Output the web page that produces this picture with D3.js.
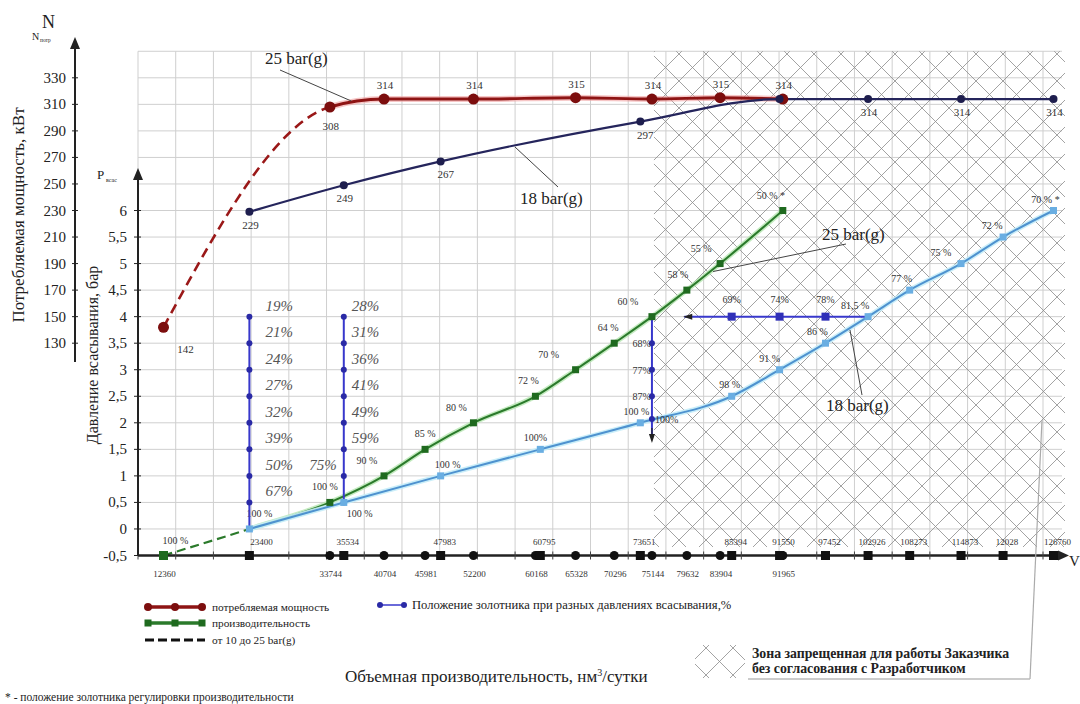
<!DOCTYPE html>
<html>
<head>
<meta charset="utf-8">
<script src="https://cdn.jsdelivr.net/npm/d3@7"></script>
<style>
  body { margin: 0; background: #fff; }
  svg { font-family: "Liberation Serif", "DejaVu Serif", serif; }
</style>
</head>
<body>
<div id="chart"></div>
<script>
// ---- data ----
// consumed power, 25 bar(g)
const redV = [12360, 33744, 40704, 52200, 65328, 75144, 83904, 91965];
const redN = [142, 308, 314, 314, 315, 314, 315, 314];
const redLabels = ["142", "308", "314", "314", "315", "314", "315", "314"];
// consumed power, 18 bar(g)
const navyV = [23400, 35534, 47983, 73651, 91550, 102926, 114873, 126760];
const navyN = [229, 249, 267, 297, 314, 314, 314, 314];
const navyLabels = ["229", "249", "267", "297", "", "314", "314", "314"];
// suction pressure vs capacity, 25 bar(g)
const greenV = [12360, 23400, 33744, 40704, 45981, 52200, 60168, 65328, 70296, 75144, 79632, 83904, 91965];
const greenP = [-0.5, 0, 0.5, 1, 1.5, 2, 2.5, 3, 3.5, 4, 4.5, 5, 6];
const greenLabels = ["100 %", "100 %", "100 %", "90 %", "85 %", "80 %", "72 %", "70 %", "64 %", "60 %", "58 %", "55 %", "50 % *"];
// suction pressure vs capacity, 18 bar(g)
const blueV = [23400, 35534, 47983, 60795, 73651, 85394, 91550, 97452, 102926, 108273, 114873, 120280, 126760];
const blueP = [0, 0.5, 1, 1.5, 2, 2.5, 3, 3.5, 4, 4.5, 5, 5.5, 6];
const blueLabels = ["", "100 %", "100 %", "100%", "100 %", "98 %", "91 %", "86 %", "81,5 %", "77 %", "75 %", "72 %", "70 % *"];
// slide valve positions
const slide1V = 23400;
const slide1P = [4, 3.5, 3, 2.5, 2, 1.5, 1, 0.5, 0];
const slide1Labels = ["19%", "21%", "24%", "27%", "32%", "39%", "50%", "67%", ""];
const slide2V = 35534;
const slide2P = [4, 3.5, 3, 2.5, 2, 1.5, 1, 0.5];
const slide2Labels = ["28%", "31%", "36%", "41%", "49%", "59%", "75%", ""];
const slide3V = 75144;
const slide3P = [3.5, 3, 2.5, 2.07];
const slide3Labels = ["68%", "77%", "87%", "100%"];
const slideHP = 4;
const slideHV = [85394, 91550, 97452];
const slideHLabels = ["69%", "74%", "78%"];
const slideHStartV = 79300, slideHEndV = 102926;
// values marked on the capacity axis
const axis25V = [33744, 40704, 45981, 52200, 60168, 65328, 70296, 75144, 79632, 83904, 91965];
const axis18V = [23400, 35534, 47983, 60795, 73651, 85394, 91550, 97452, 102926, 108273, 114873, 120280, 126760];
const axis18Text = ["23400", "35534", "47983", "60795", "73651", "85394", "91550", "97452", "102926", "108273", "114873", "12028", "126760"];
// axis ticks
const nTicks = d3.range(130, 331, 20);
const pTicks = d3.range(-0.5, 6.01, 0.5);
const zoneStartV = 75144;

// label nudges (layout only)
const greenDx = [12, 10, -5, -17, 0, -17, -7, -27, -6, -24, -9, -19, -12];
const blueDx = [0, 16, 7, -5, -4, -2, -10, -8, -13, -8, -20, -11, -8];

const width = 1080, height = 704;
const svg = d3.select("#chart").append("svg")
  .attr("width", width).attr("height", height);

// scales
const x = d3.scaleLinear().domain([12360, 126760]).range([163.5, 1053.5]);
const yP = d3.scaleLinear().domain([-0.5, 6]).range([555.5, 210.5]);
const yN = d3.scaleLinear().domain([-30, 350]).range([yP(-0.5), yP(9)]);
const col = d3.scaleLinear().domain([0, 24]).range([138, 1043]);
const gridRight = 1062;

const fmt = v => String(v).replace(".", ",");

// ---- grid ----
const grid = svg.append("g").attr("stroke", "#cfcfcf").attr("stroke-width", 1);
grid.selectAll(".gh").data(d3.range(-30, 351, 20)).join("line")
  .attr("x1", col(0)).attr("x2", gridRight)
  .attr("y1", d => yN(d)).attr("y2", d => yN(d));
grid.selectAll(".gv").data(d3.range(0, 25)).join("line")
  .attr("x1", d => col(d)).attr("x2", d => col(d))
  .attr("y1", yN(350)).attr("y2", yN(-30));

// ---- forbidden zone hatch ----
function hatch(g, x0, y0, w, h, step, id) {
  svg.append("clipPath").attr("id", id).append("rect")
    .attr("x", x0).attr("y", y0).attr("width", w).attr("height", h);
  const hg = g.append("g").attr("clip-path", `url(#${id})`)
    .attr("stroke", "#8c8c8c").attr("stroke-width", 0.8);
  const cs = d3.range(-1400, 2400, step);
  hg.selectAll(".a").data(cs).join("line")
    .attr("x1", d => d).attr("y1", 0).attr("x2", d => d - 800).attr("y2", 800);
  hg.selectAll(".b").data(cs).join("line")
    .attr("x1", d => d).attr("y1", 0).attr("x2", d => d + 800).attr("y2", 800);
}
const zoneG = svg.append("g");
hatch(zoneG, x(zoneStartV) + 2, yN(350), 1065 - x(zoneStartV) - 2, 547 - yN(350), 27, "zone");

// ---- curves ----
const redData = redV.map((v, i) => ({ v, n: redN[i], t: redLabels[i] }));
const navyData = navyV.map((v, i) => ({ v, n: navyN[i], t: navyLabels[i] }));
const greenData = greenV.map((v, i) => ({ v, p: greenP[i], t: greenLabels[i], dx: greenDx[i] }));
const blueData = blueV.map((v, i) => ({ v, p: blueP[i], t: blueLabels[i], dx: blueDx[i] }));

const lineN = d3.line().x(d => x(d.v)).y(d => yN(d.n)).curve(d3.curveMonotoneX);
const lineP = d3.line().x(d => x(d.v)).y(d => yP(d.p)).curve(d3.curveMonotoneX);

function clip(id, x0, x1) {
  svg.append("clipPath").attr("id", id).append("rect")
    .attr("x", x0).attr("y", 0).attr("width", x1 - x0).attr("height", height);
  return `url(#${id})`;
}
const redSplit = x(33744), greenSplit = x(23400);

// red (25 bar power)
svg.append("path").attr("d", lineN(redData)).attr("fill", "none")
  .attr("clip-path", clip("redA", redSplit, width))
  .attr("stroke", "#f0a0a0").attr("stroke-width", 6).attr("opacity", 0.6);
svg.append("path").attr("d", lineN(redData)).attr("fill", "none")
  .attr("clip-path", clip("redB", redSplit, width))
  .attr("stroke", "#8e1414").attr("stroke-width", 3);
svg.append("path").attr("d", lineN(redData)).attr("fill", "none")
  .attr("clip-path", clip("redC", 0, redSplit))
  .attr("stroke", "#9a1818").attr("stroke-width", 2.6).attr("stroke-dasharray", "10,6");

// navy (18 bar power)
svg.append("path").attr("d", lineN(navyData)).attr("fill", "none")
  .attr("stroke", "#25255c").attr("stroke-width", 2.2);

// green (25 bar capacity)
svg.append("path").attr("d", lineP(greenData)).attr("fill", "none")
  .attr("clip-path", clip("grA", greenSplit, width))
  .attr("stroke", "#b5e6b0").attr("stroke-width", 5).attr("opacity", 0.8);
svg.append("path").attr("d", lineP(greenData)).attr("fill", "none")
  .attr("clip-path", clip("grB", greenSplit, width))
  .attr("stroke", "#2b7a2b").attr("stroke-width", 2);
svg.append("path").attr("d", lineP(greenData)).attr("fill", "none")
  .attr("clip-path", clip("grC", 0, greenSplit))
  .attr("stroke", "#2b7a2b").attr("stroke-width", 2.2).attr("stroke-dasharray", "9,5");

// light blue (18 bar capacity)
svg.append("path").attr("d", lineP(blueData)).attr("fill", "none")
  .attr("stroke", "#c4ecf8").attr("stroke-width", 5).attr("opacity", 0.9);
svg.append("path").attr("d", lineP(blueData)).attr("fill", "none")
  .attr("stroke", "#4e92cf").attr("stroke-width", 2);

// ---- value labels ----
const lab = svg.append("g").attr("fill", "#333").attr("text-anchor", "middle");
lab.selectAll(".rl").data(redData).join("text")
  .attr("x", (d, i) => x(d.v) + (i === 0 ? 22 : 1))
  .attr("y", (d, i) => yN(d.n) + (i === 0 ? 26 : i === 1 ? 23 : -10))
  .attr("font-size", 11).text(d => d.t);
lab.selectAll(".nl").data(navyData).join("text")
  .attr("x", (d, i) => x(d.v) + (i === 2 || i === 3 ? 5 : 1))
  .attr("y", d => yN(d.n) + 17)
  .attr("font-size", 11).text(d => d.t);
lab.selectAll(".gl").data(greenData).join("text")
  .attr("x", d => x(d.v) + d.dx).attr("y", d => yP(d.p) - 12)
  .attr("font-size", 10).text(d => d.t);
lab.selectAll(".bl").data(blueData).join("text")
  .attr("x", d => x(d.v) + d.dx).attr("y", (d, i) => yP(d.p) + (i === 1 ? 15 : -8))
  .attr("font-size", 10).text(d => d.t);

// ---- slide valve lines (purple) ----
const purple = "#3838cc", purpleDot = "#2a2aa6";
const sg = svg.append("g");
sg.append("line").attr("x1", x(slide1V)).attr("x2", x(slide1V))
  .attr("y1", yP(d3.max(slide1P))).attr("y2", yP(d3.min(slide1P)))
  .attr("stroke", purple).attr("stroke-width", 2);
sg.append("line").attr("x1", x(slide2V)).attr("x2", x(slide2V))
  .attr("y1", yP(d3.max(slide2P))).attr("y2", yP(d3.min(slide2P)))
  .attr("stroke", purple).attr("stroke-width", 2);
sg.append("line").attr("x1", x(slide3V)).attr("x2", x(slide3V))
  .attr("y1", yP(4)).attr("y2", yP(1.75))
  .attr("stroke", purple).attr("stroke-width", 2);
sg.append("path")
  .attr("d", `M${x(slide3V)},${yP(1.62)} l-3,-9 l6,0 z`).attr("fill", "#222");
sg.append("line").attr("x1", x(slide3V)).attr("x2", x(slide3V))
  .attr("y1", yP(1.9)).attr("y2", yP(1.7)).attr("stroke", "#222").attr("stroke-width", 1.2);
sg.append("line").attr("x1", x(slideHStartV)).attr("x2", x(slideHEndV))
  .attr("y1", yP(slideHP)).attr("y2", yP(slideHP))
  .attr("stroke", purple).attr("stroke-width", 2);
sg.append("path")
  .attr("d", `M${x(slideHStartV) - 1},${yP(slideHP)} l9,-3 l0,6 z`).attr("fill", "#222");

function vDots(v, ps) {
  sg.selectAll(null).data(ps).join("circle")
    .attr("cx", x(v)).attr("cy", d => yP(d)).attr("r", 3).attr("fill", purpleDot);
}
vDots(slide1V, slide1P);
vDots(slide2V, slide2P);
vDots(slide3V, slide3P);
sg.selectAll(null).data(slideHV).join("rect")
  .attr("x", d => x(d) - 4).attr("y", yP(slideHP) - 4)
  .attr("width", 8).attr("height", 8).attr("fill", "#3030b8");

// slide labels
const italicLab = { size: 15, fill: "#555" };
sg.selectAll(null).data(slide1P.map((p, i) => ({ p, t: slide1Labels[i] }))).join("text")
  .attr("x", x(slide1V) + 16).attr("y", d => yP(d.p) - 6)
  .attr("font-size", italicLab.size).attr("font-style", "italic").attr("fill", italicLab.fill)
  .text(d => d.t);
sg.selectAll(null).data(slide2P.map((p, i) => ({ p, t: slide2Labels[i], i }))).join("text")
  .attr("x", d => d.i === 6 ? x(slide2V) - 7 : x(slide2V) + 8)
  .attr("text-anchor", d => d.i === 6 ? "end" : "start")
  .attr("y", d => yP(d.p) - 6)
  .attr("font-size", italicLab.size).attr("font-style", "italic").attr("fill", italicLab.fill)
  .text(d => d.t);
sg.selectAll(null).data(slide3P.map((p, i) => ({ p, t: slide3Labels[i], i }))).join("text")
  .attr("x", d => d.i === 3 ? x(slide3V) + 3 : x(slide3V) - 1)
  .attr("text-anchor", d => d.i === 3 ? "start" : "end")
  .attr("y", d => yP(d.p) + 4)
  .attr("font-size", 10).attr("fill", "#333")
  .text(d => d.t);
sg.selectAll(null).data(slideHV.map((v, i) => ({ v, t: slideHLabels[i] }))).join("text")
  .attr("x", d => x(d.v)).attr("y", yP(slideHP) - 14)
  .attr("text-anchor", "middle").attr("font-size", 10).attr("fill", "#333")
  .text(d => d.t);

// ---- markers ----
svg.selectAll(".rdot").data(redData).join("circle")
  .attr("cx", d => x(d.v)).attr("cy", d => yN(d.n)).attr("r", 5.5).attr("fill", "#7c0e0e");
svg.selectAll(".ndot").data(navyData).join("circle")
  .attr("cx", d => x(d.v)).attr("cy", d => yN(d.n)).attr("r", 4).attr("fill", "#1e1e4e");
svg.selectAll(".gsq").data(greenData.filter(d => d.v !== 23400)).join("rect")
  .attr("x", d => x(d.v) - 3.5).attr("y", d => yP(d.p) - 3.5)
  .attr("width", 7).attr("height", 7).attr("fill", "#1f6a1f");
svg.selectAll(".bsq").data(blueData).join("rect")
  .attr("x", d => x(d.v) - 3.5).attr("y", d => yP(d.p) - 3.5)
  .attr("width", 7).attr("height", 7).attr("fill", "#6aaee2");

// ---- annotations ----
const ann = svg.append("g").attr("font-size", 17).attr("fill", "#222");
function leader(x1, y1, x2, y2) {
  svg.append("line").attr("x1", x1).attr("y1", y1).attr("x2", x2).attr("y2", y2)
    .attr("stroke", "#444").attr("stroke-width", 1);
}
ann.append("text").attr("x", 265).attr("y", 64).text("25 bar(g)");
leader(280, 70, x(36500), yN(311) - 2);
ann.append("text").attr("x", 520).attr("y", 204).text("18 bar(g)");
leader(515, 147, 558, 187);
ann.append("text").attr("x", 822).attr("y", 240).text("25 bar(g)");
leader(x(83000), yP(4.85), 846, 244);
ann.append("text").attr("x", 826).attr("y", 411).text("18 bar(g)");
leader(x(100600), yP(3.75), 862, 395);

// ---- axes ----
const ax = svg.append("g").attr("fill", "#222");
// capacity axis
ax.append("line").attr("x1", col(0)).attr("x2", 1060).attr("y1", yP(-0.5)).attr("y2", yP(-0.5))
  .attr("stroke", "#222").attr("stroke-width", 2.5);
ax.append("path").attr("d", `M1069,${yP(-0.5)} l-11,-5 l0,10 z`);
ax.selectAll(".xt").data(d3.range(0, 25)).join("line")
  .attr("x1", d => col(d)).attr("x2", d => col(d))
  .attr("y1", yP(-0.5) - 4).attr("y2", yP(-0.5) + 4)
  .attr("stroke", "#444").attr("stroke-width", 1);
ax.append("text").attr("x", 1069).attr("y", 566).attr("font-size", 15).text("V");

ax.selectAll(".a25").data(axis25V).join("circle")
  .attr("cx", d => x(d)).attr("cy", yP(-0.5)).attr("r", 4.5).attr("fill", "#111");
ax.selectAll(".a18").data(axis18V).join("rect")
  .attr("x", d => x(d) - 4.5).attr("y", yP(-0.5) - 4.5)
  .attr("width", 9).attr("height", 9).attr("fill", "#111");
svg.append("rect").attr("x", x(12360) - 4.5).attr("y", yP(-0.5) - 4.5)
  .attr("width", 9).attr("height", 9).attr("fill", "#1f6a1f");

const axl = svg.append("g").attr("font-size", 9).attr("fill", "#333").attr("text-anchor", "middle");
axl.selectAll(".t25").data([12360].concat(axis25V)).join("text")
  .attr("x", d => x(d) + 1).attr("y", 577).text(d => d);
axl.selectAll(".t18").data(axis18V.map((v, i) => ({ v, t: axis18Text[i] }))).join("text")
  .attr("x", (d, i) => x(d.v) + (i === 0 ? 12 : 4)).attr("y", 545).text(d => d.t);

// pressure axis
ax.append("line").attr("x1", col(0)).attr("x2", col(0)).attr("y1", yP(-0.5)).attr("y2", 176)
  .attr("stroke", "#222").attr("stroke-width", 2);
ax.append("path").attr("d", `M${col(0)},168 l-5,12 l10,0 z`);
ax.selectAll(".pt").data(pTicks).join("line")
  .attr("x1", col(0) - 4).attr("x2", col(0) + 3)
  .attr("y1", d => yP(d)).attr("y2", d => yP(d))
  .attr("stroke", "#222");
ax.selectAll(".pl").data(pTicks).join("text")
  .attr("x", 127).attr("y", d => yP(d) + 5).attr("text-anchor", "end")
  .attr("font-size", 15).text(d => fmt(+d.toFixed(1)));
ax.append("text").attr("x", 97).attr("y", 179).attr("font-size", 13).text("P");
ax.append("text").attr("x", 106).attr("y", 182).attr("font-size", 6).text("всас");

// power axis
const nx = 75;
ax.append("line").attr("x1", nx).attr("x2", nx).attr("y1", 362).attr("y2", 46)
  .attr("stroke", "#222").attr("stroke-width", 2);
ax.append("path").attr("d", `M${nx},37 l-5,12 l10,0 z`);
ax.selectAll(".ntk").data(nTicks).join("line")
  .attr("x1", nx - 3).attr("x2", nx + 3)
  .attr("y1", d => yN(d)).attr("y2", d => yN(d)).attr("stroke", "#222");
ax.selectAll(".nl").data(nTicks).join("text")
  .attr("x", 66).attr("y", d => yN(d) + 5).attr("text-anchor", "end")
  .attr("font-size", 15).text(d => d);
ax.append("text").attr("x", 42).attr("y", 28).attr("font-size", 18).text("N");
ax.append("text").attr("x", 32).attr("y", 40).attr("font-size", 10).text("N");
ax.append("text").attr("x", 40).attr("y", 42).attr("font-size", 5.5).text("потр");

// axis titles
ax.append("text").attr("transform", "translate(24,215) rotate(-90)")
  .attr("text-anchor", "middle").attr("font-size", 17).text("Потребляемая мощность, кВт");
ax.append("text").attr("transform", "translate(98,355) rotate(-90)")
  .attr("text-anchor", "middle").attr("font-size", 16).text("Давление всасывания, бар");
ax.append("text").attr("x", 345).attr("y", 682).attr("font-size", 17)
  .html("Объемная производительность, нм<tspan dy='-6' font-size='10'>3</tspan><tspan dy='6'>/сутки</tspan>");
ax.append("text").attr("x", 5).attr("y", 701).attr("font-size", 11.5)
  .text("* - положение золотника регулировки производительности");

// ---- legend ----
const lg = svg.append("g").attr("font-size", 11.3).attr("fill", "#222");
const legendRows = [
  { y: 607, color: "#8e1414", mark: "circle", dash: null, text: "потребляемая мощность" },
  { y: 623, color: "#2b7a2b", mark: "rect", dash: null, text: "производительность" },
  { y: 640, color: "#111", mark: null, dash: "9,4", text: "от 10 до 25 bar(g)" }
];
legendRows.forEach(r => {
  lg.append("line").attr("x1", 145).attr("x2", 205).attr("y1", r.y).attr("y2", r.y)
    .attr("stroke", r.color).attr("stroke-width", r.dash ? 3 : 3.5)
    .attr("stroke-dasharray", r.dash);
  if (r.mark === "circle") {
    lg.selectAll(null).data([148, 175, 202]).join("circle")
      .attr("cx", d => d).attr("cy", r.y).attr("r", 4).attr("fill", "#7c0e0e");
  } else if (r.mark === "rect") {
    lg.selectAll(null).data([148, 175, 202]).join("rect")
      .attr("x", d => d - 3.5).attr("y", r.y - 3.5).attr("width", 7).attr("height", 7).attr("fill", "#1f6a1f");
  }
  lg.append("text").attr("x", 212).attr("y", r.y + 4).text(r.text);
});
lg.append("line").attr("x1", 380).attr("x2", 404).attr("y1", 605).attr("y2", 605)
  .attr("stroke", purple).attr("stroke-width", 1.5);
lg.selectAll(null).data([380, 404]).join("circle")
  .attr("cx", d => d).attr("cy", 605).attr("r", 3).attr("fill", purpleDot);
lg.append("text").attr("x", 412).attr("y", 609).attr("font-size", 12.6)
  .text("Положение золотника при разных давлениях всасывания,%");

// zone legend
const zl = svg.append("g");
hatch(zl, 695, 645, 50, 33, 27, "zoneLeg");
svg.append("line").attr("x1", 1042).attr("y1", 420).attr("x2", 1030).attr("y2", 679)
  .attr("stroke", "#aaa").attr("stroke-width", 1.2);
svg.append("line").attr("x1", 748).attr("y1", 679).attr("x2", 1030).attr("y2", 679)
  .attr("stroke", "#bbb").attr("stroke-width", 1.5);
const zt = svg.append("g").attr("font-size", 13.8).attr("font-weight", "bold").attr("fill", "#222");
zt.append("text").attr("x", 752).attr("y", 658).text("Зона запрещенная для работы Заказчика");
zt.append("text").attr("x", 752).attr("y", 673).text("без согласования с Разработчиком");
</script>
</body>
</html>
